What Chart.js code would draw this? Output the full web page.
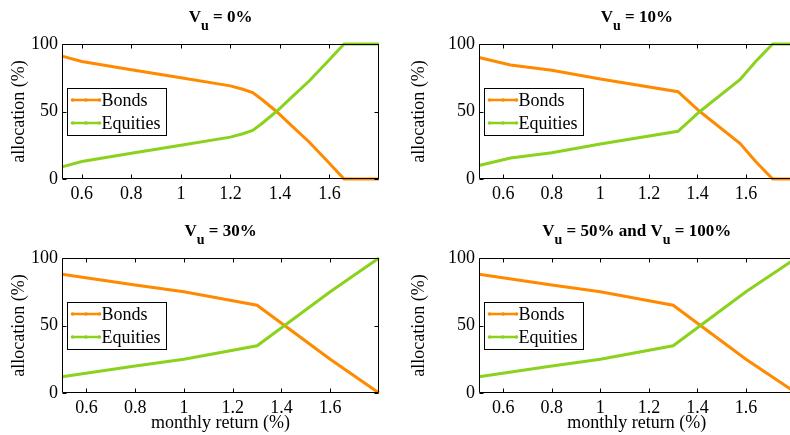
<!DOCTYPE html>
<html>
<head>
<meta charset="utf-8">
<script src="https://cdn.jsdelivr.net/npm/chart.js@4/dist/chart.umd.min.js"></script>
<style>
  html, body { margin: 0; padding: 0; background: #fff; }
  body { width: 790px; height: 435px; overflow: hidden; position: relative; }
  canvas { position: absolute; }
</style>
</head>
<body>
<canvas id="c1" width="400" height="205" style="left:0px;top:0px;width:400px;height:205px"></canvas>
<canvas id="c2" width="400" height="205" style="left:400px;top:0px;width:400px;height:205px"></canvas>
<canvas id="c3" width="400" height="230" style="left:0px;top:205px;width:400px;height:230px"></canvas>
<canvas id="c4" width="400" height="230" style="left:400px;top:205px;width:400px;height:230px"></canvas>
<script>
// ---------- data ----------
const seriesNames = ['Bonds', 'Equities'];
const xTickValues = [0.6, 0.8, 1, 1.2, 1.4, 1.6];
const yTickValues = [0, 50, 100];

// Vu = 0%
const xVu0 = [0.52, 0.6, 0.8, 1.0, 1.2, 1.25, 1.29, 1.33, 1.386, 1.45, 1.517, 1.59, 1.659, 1.8];
const bondsVu0 = [91, 87, 81, 75, 69, 66.5, 64, 58.5, 50, 39, 27.6, 13.5, 0, 0];
const equitiesVu0 = [9, 13, 19, 25, 31, 33.5, 36, 41.5, 50, 61, 72.4, 86.5, 100, 100];

// Vu = 10%
const xVu10 = [0.5, 0.63, 0.8, 1.0, 1.32, 1.41, 1.575, 1.64, 1.71, 1.8];
const bondsVu10 = [90, 84.5, 80.5, 74, 64.7, 50, 26.5, 13, 0, 0];
const equitiesVu10 = [10, 15.5, 19.5, 26, 35.3, 50, 73.5, 87, 100, 100];

// Vu = 30%
const xVu30 = [0.5, 0.8, 1.0, 1.3, 1.6, 1.8];
const bondsVu30 = [88, 80, 75, 65, 25, 0];
const equitiesVu30 = [12, 20, 25, 35, 75, 100];

// Vu = 50% and Vu = 100%
const xVu50 = [0.5, 0.8, 1.0, 1.3, 1.6, 1.8];
const bondsVu50 = [88, 80, 75, 65, 25, 1];
const equitiesVu50 = [12, 20, 25, 35, 75, 99];

// ---------- styling ----------
const ORANGE = 'rgb(255,138,0)';
const GREEN = 'rgb(138,210,30)';
const SERIF = "'Liberation Serif', 'Times New Roman', serif";
const FS = 18;
Chart.defaults.font.family = SERIF;
Chart.defaults.color = '#000';

function pts(xs, ys) { return xs.map((x, i) => ({ x: x, y: ys[i] })); }

const boxPlugin = {
  id: 'boxPlugin',
  afterDraw(chart) {
    const { ctx, chartArea: a, scales } = chart;
    const L = Math.round(a.left) + 0.5, R = Math.round(a.right) - 0.5;
    const T = Math.round(a.top) + 0.5, B = Math.round(a.bottom) - 0.5;
    ctx.save();
    ctx.strokeStyle = '#000';
    ctx.lineWidth = 1;
    ctx.beginPath();
    ctx.rect(L, T, R - L, B - T);
    const tl = 4;
    scales.x.ticks.forEach(t => {
      const px = Math.round(scales.x.getPixelForValue(t.value)) + 0.5;
      ctx.moveTo(px, B); ctx.lineTo(px, B - tl);
      ctx.moveTo(px, T); ctx.lineTo(px, T + tl);
    });
    scales.y.ticks.forEach(t => {
      const py = Math.round(scales.y.getPixelForValue(t.value)) + 0.5;
      ctx.moveTo(L, py); ctx.lineTo(L + tl, py);
      ctx.moveTo(R, py); ctx.lineTo(R - tl, py);
    });
    ctx.stroke();
    ctx.restore();
  }
};

const titlePlugin = {
  id: 'titlePlugin',
  afterDraw(chart, args, opts) {
    const parts = opts.parts;
    if (!parts) return;
    const { ctx, chartArea: a } = chart;
    ctx.save();
    const big = 'bold 17px ' + SERIF, small = 'bold 14px ' + SERIF;
    let w = 0;
    parts.forEach(p => { ctx.font = p.sub ? small : big; w += ctx.measureText(p.text).width; });
    let x = (a.left + a.right) / 2 - w / 2;
    const base = a.top - 22.5;
    ctx.fillStyle = '#000';
    ctx.textBaseline = 'alphabetic';
    ctx.textAlign = 'left';
    parts.forEach(p => {
      ctx.font = p.sub ? small : big;
      ctx.fillText(p.text, x, p.sub ? base + 8 : base);
      x += ctx.measureText(p.text).width;
    });
    ctx.restore();
  }
};

const legendPlugin = {
  id: 'legendPlugin',
  afterDraw(chart) {
    const { ctx, chartArea: a } = chart;
    const bx = Math.round(a.left) + 5.5, by = Math.round(a.top) + 44.5;
    const bw = 99, bh = 47;
    ctx.save();
    ctx.fillStyle = '#fff';
    ctx.fillRect(bx, by, bw, bh);
    ctx.strokeStyle = '#000';
    ctx.lineWidth = 1;
    ctx.strokeRect(bx, by, bw, bh);
    const rows = [11.5, 34.5];
    chart.data.datasets.forEach((ds, i) => {
      const yy = by + rows[i];
      ctx.strokeStyle = ds.borderColor;
      ctx.lineWidth = 2.5;
      ctx.beginPath();
      ctx.moveTo(bx + 5, yy); ctx.lineTo(bx + 32, yy);
      ctx.stroke();
      ctx.fillStyle = ds.borderColor;
      [bx + 5, bx + 18.5, bx + 32].forEach(px => {
        ctx.beginPath(); ctx.arc(px, yy, 1.8, 0, Math.PI * 2); ctx.fill();
      });
      ctx.fillStyle = '#000';
      ctx.font = FS + 'px ' + SERIF;
      ctx.textBaseline = 'middle';
      ctx.textAlign = 'left';
      ctx.fillText(ds.label, bx + 34, yy + 1);
    });
    ctx.restore();
  }
};

function makeChart(id, cfg) {
  const canvas = document.getElementById(id);
  const W = canvas.width, H = canvas.height;
  return new Chart(canvas, {
    type: 'line',
    data: {
      datasets: [
        { label: seriesNames[0], data: pts(cfg.xs, cfg.bonds), borderColor: ORANGE, backgroundColor: ORANGE,
          borderWidth: 3, pointRadius: 0, tension: 0, order: 1, clip: false },
        { label: seriesNames[1], data: pts(cfg.xs, cfg.equities), borderColor: GREEN, backgroundColor: GREEN,
          borderWidth: 3, pointRadius: 0, tension: 0, order: 0, clip: false }
      ]
    },
    options: {
      responsive: false,
      animation: false,
      devicePixelRatio: 1,
      layout: { padding: { left: 0, top: cfg.top, right: W - cfg.right, bottom: 0 } },
      plugins: {
        legend: { display: false },
        tooltip: { enabled: false },
        titlePlugin: { parts: cfg.title }
      },
      scales: {
        x: {
          type: 'linear',
          min: cfg.xmin, max: 1.8,
          afterBuildTicks: s => { s.ticks = xTickValues.map(v => ({ value: v })); },
          afterFit: s => { s.height = H - cfg.bottom; },
          grid: { display: false, drawTicks: false },
          border: { display: false },
          ticks: { font: { size: FS }, padding: 4, maxRotation: 0, autoSkip: false, callback: v => String(v) },
          title: cfg.xtitle ? { display: true, text: 'monthly return (%)', font: { size: FS }, padding: { top: 0, bottom: 1 } } : { display: false }
        },
        y: {
          min: 0, max: 100,
          afterBuildTicks: s => { s.ticks = yTickValues.map(v => ({ value: v })); },
          afterFit: s => { s.width = cfg.left; },
          grid: { display: false, drawTicks: false },
          border: { display: false },
          ticks: { font: { size: FS }, padding: 4, callback: v => String(v) },
          title: { display: true, text: 'allocation (%)', font: { size: FS }, padding: { top: 8.5, bottom: 0 } }
        }
      }
    },
    plugins: [boxPlugin, legendPlugin, titlePlugin]
  });
}

makeChart('c1', { xs: xVu0, bonds: bondsVu0, equities: equitiesVu0, xmin: 0.52,
  left: 62, right: 379, top: 44, bottom: 179, xtitle: false,
  title: [{ text: 'V' }, { text: 'u', sub: true }, { text: ' = 0%' }] });
makeChart('c2', { xs: xVu10, bonds: bondsVu10, equities: equitiesVu10, xmin: 0.5,
  left: 79, right: 394.5, top: 44, bottom: 179, xtitle: false,
  title: [{ text: 'V' }, { text: 'u', sub: true }, { text: ' = 10%' }] });
makeChart('c3', { xs: xVu30, bonds: bondsVu30, equities: equitiesVu30, xmin: 0.5,
  left: 62, right: 379, top: 53, bottom: 188, xtitle: true,
  title: [{ text: 'V' }, { text: 'u', sub: true }, { text: ' = 30%' }] });
makeChart('c4', { xs: xVu50, bonds: bondsVu50, equities: equitiesVu50, xmin: 0.5,
  left: 79, right: 394.5, top: 53, bottom: 188, xtitle: true,
  title: [{ text: 'V' }, { text: 'u', sub: true }, { text: ' = 50% and V' }, { text: 'u', sub: true }, { text: ' = 100%' }] });
</script>
</body>
</html>
